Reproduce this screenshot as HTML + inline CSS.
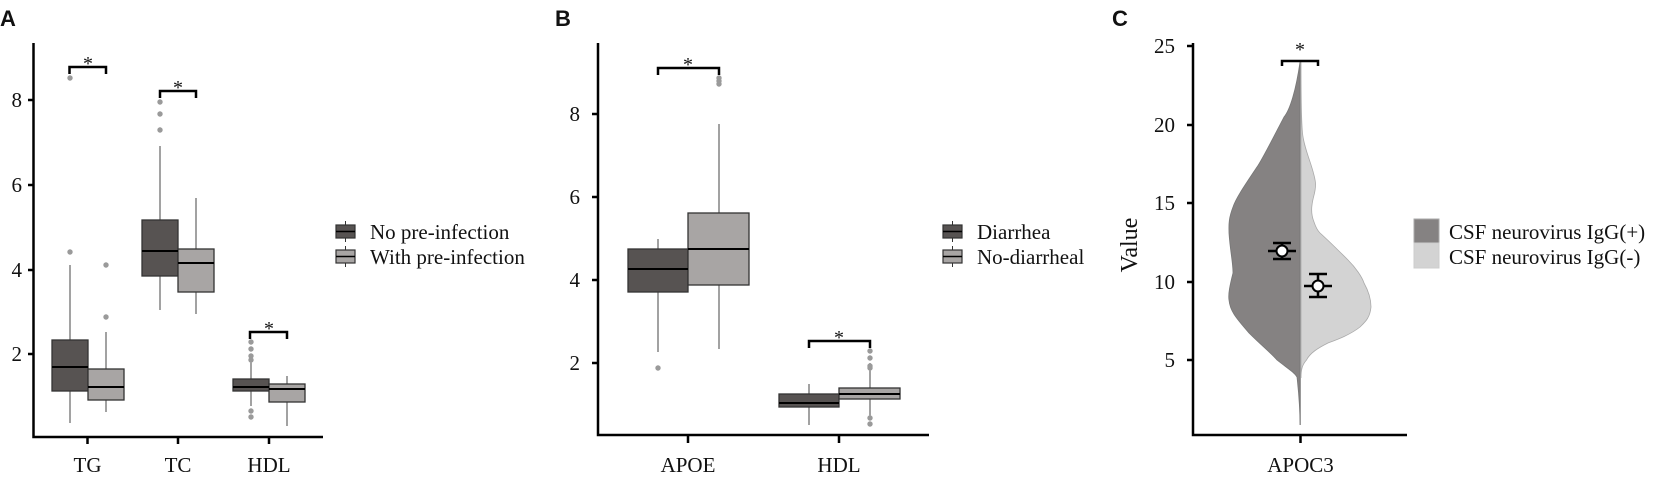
<!DOCTYPE html>
<html><head><meta charset="utf-8"><style>
html,body{margin:0;padding:0;background:#fff;}
svg{display:block;}
text{font-family:"Liberation Serif",serif;fill:#111;}
.lbl{font-family:"Liberation Sans",sans-serif;font-weight:bold;font-size:22px;}
</style></head><body>
<svg width="1654" height="477" viewBox="0 0 1654 477" xmlns="http://www.w3.org/2000/svg">
<!-- Panel A -->
<text class="lbl" x="0" y="26">A</text>
<g stroke="#000" stroke-width="2.5" fill="none">
<path d="M33.5,43 V437 H323"/>
<path d="M28,100H33.5M28,185H33.5M28,270H33.5M28,354H33.5"/>
<path d="M87.5,437V444M178,437V444M269,437V444"/>
</g>
<g font-size="21" text-anchor="end"><text x="22" y="107">8</text><text x="22" y="192">6</text><text x="22" y="277">4</text><text x="22" y="361">2</text></g>
<g font-size="21" text-anchor="middle"><text x="87.5" y="472">TG</text><text x="178" y="472">TC</text><text x="269" y="472">HDL</text></g>
<g stroke="#444" stroke-width="1">
<path d="M70,265V340M70,391V423M106,332V369M106,400V412M160,146V220M160,276V310M196,198V249M196,292V314M251,361V379M251,391V406M287,376V384M287,402V426"/>
</g>
<g stroke="#333" stroke-width="1.3">
<rect x="52" y="340" width="36" height="51" fill="#575352"/>
<rect x="88" y="369" width="36" height="31" fill="#a8a5a4"/>
<rect x="142" y="220" width="36" height="56" fill="#575352"/>
<rect x="178" y="249" width="36" height="43" fill="#a8a5a4"/>
<rect x="233" y="379" width="36" height="12" fill="#575352"/>
<rect x="269" y="384" width="36" height="18" fill="#a8a5a4"/>
</g>
<g stroke="#000" stroke-width="2"><path d="M52,367H88M88,387H124M142,251H178M178,263H214M233,387H269M269,389H305"/></g>
<g fill="#9a9a9a"><circle cx="70" cy="252" r="2.7"/><circle cx="70" cy="78" r="2.7"/><circle cx="106" cy="317" r="2.7"/><circle cx="106" cy="265" r="2.7"/><circle cx="160" cy="130" r="2.7"/><circle cx="160" cy="114" r="2.7"/><circle cx="160" cy="102" r="2.7"/><circle cx="251" cy="342" r="2.7"/><circle cx="251" cy="349" r="2.7"/><circle cx="251" cy="356" r="2.7"/><circle cx="251" cy="360" r="2.7"/><circle cx="251" cy="411" r="2.7"/><circle cx="251" cy="417" r="2.7"/></g>
<g stroke="#000" stroke-width="2.5" fill="none"><path d="M69.5,74V67H106V74M160,98V91H196V98M250,339V332H287V339"/></g>
<g font-size="20" text-anchor="middle"><text x="88" y="70">*</text><text x="178" y="94">*</text><text x="269" y="335">*</text></g>
<g>
<path d="M345.5,221V242M345.5,246V267" stroke="#333" stroke-width="1"/>
<rect x="336" y="225" width="19" height="13" fill="#575352" stroke="#333" stroke-width="1.2"/>
<path d="M336,231.5H355" stroke="#000" stroke-width="1.5"/>
<rect x="336" y="250" width="19" height="13" fill="#a8a5a4" stroke="#333" stroke-width="1.2"/>
<path d="M336,256.5H355" stroke="#000" stroke-width="1.5"/>
</g>
<g font-size="21"><text x="370" y="239">No pre-infection</text><text x="370" y="264">With pre-infection</text></g>

<!-- Panel B -->
<text class="lbl" x="555" y="26">B</text>
<g stroke="#000" stroke-width="2.5" fill="none">
<path d="M598,43V435H929"/>
<path d="M592,114H598M592,197H598M592,280H598M592,363H598"/>
<path d="M688,435V443M839,435V443"/>
</g>
<g font-size="21" text-anchor="end"><text x="580" y="121">8</text><text x="580" y="204">6</text><text x="580" y="287">4</text><text x="580" y="370">2</text></g>
<g font-size="21" text-anchor="middle"><text x="688" y="472">APOE</text><text x="839" y="472">HDL</text></g>
<g stroke="#444" stroke-width="1"><path d="M658,239V249M658,292V352M719,124V213M719,285V349M809,384V394M809,407V425M870,363V388M870,399V417"/></g>
<g stroke="#333" stroke-width="1.3">
<rect x="628" y="249" width="60" height="43" fill="#575352"/>
<rect x="688" y="213" width="61" height="72" fill="#a8a5a4"/>
<rect x="779" y="394" width="60" height="13" fill="#575352"/>
<rect x="839" y="388" width="61" height="11" fill="#a8a5a4"/>
</g>
<g stroke="#000" stroke-width="2"><path d="M628,269H688M688,249H749M779,403H839M839,394H900"/></g>
<g fill="#9a9a9a"><circle cx="658" cy="368" r="2.7"/><circle cx="719" cy="78" r="2.7"/><circle cx="719" cy="81" r="2.7"/><circle cx="719" cy="84" r="2.7"/><circle cx="870" cy="351" r="2.7"/><circle cx="870" cy="358" r="2.7"/><circle cx="870" cy="366" r="2.7"/><circle cx="870" cy="368" r="2.7"/><circle cx="870" cy="418" r="2.7"/><circle cx="870" cy="424" r="2.7"/></g>
<g stroke="#000" stroke-width="2.5" fill="none"><path d="M658,75V68H719V75M809,348V341H870V348"/></g>
<g font-size="20" text-anchor="middle"><text x="688" y="71">*</text><text x="839" y="344">*</text></g>
<g>
<path d="M952.5,221V242M952.5,246V267" stroke="#333" stroke-width="1"/>
<rect x="943" y="225" width="19" height="13" fill="#575352" stroke="#333" stroke-width="1.2"/>
<path d="M943,231.5H962" stroke="#000" stroke-width="1.5"/>
<rect x="943" y="250" width="19" height="13" fill="#a8a5a4" stroke="#333" stroke-width="1.2"/>
<path d="M943,256.5H962" stroke="#000" stroke-width="1.5"/>
</g>
<g font-size="21"><text x="977" y="239">Diarrhea</text><text x="977" y="264">No-diarrheal</text></g>

<!-- Panel C -->
<text class="lbl" x="1112" y="26">C</text>
<path d="M1300,62 C1296,90 1290,110 1284,117 C1272,140 1262,160 1257,167 C1245,185 1236,198 1233,207 C1228,220 1229,226 1229,233 C1230,250 1233,262 1233,273 C1230,285 1228,294 1229,300 C1230,312 1238,320 1249,333 C1262,346 1270,352 1277,360 C1287,368 1294,372 1297,377 C1299,395 1300,410 1300,425 Z" fill="#858282" stroke="#777" stroke-width="0.8"/>
<path d="M1301,62 C1301,90 1301,118 1302.5,133 C1304,150 1314,168 1315.5,183 C1316,192 1313,196 1312,205 C1311,212 1312,217 1314,222 C1316,228 1318,231 1320,233 C1330,242 1340,252 1348,260 C1356,268 1362,277 1364,283 C1369,292 1371,300 1371,307 C1370,318 1365,322 1360,327 C1350,335 1336,340 1328,343 C1318,348 1310,353 1306.5,360 C1302,365 1301,370 1301,378 Z" fill="#d3d3d3" stroke="#aaa" stroke-width="0.8"/>
<path d="M1300.5,62V425" stroke="#999" stroke-width="1"/>
<g stroke="#000" stroke-width="2.5" fill="none">
<path d="M1193,43V435H1407"/>
<path d="M1187,46H1193M1187,125H1193M1187,203H1193M1187,282H1193M1187,360H1193"/>
<path d="M1300.5,435V443"/>
<path d="M1282,66V61H1318V66"/>
<path d="M1282,243V259M1273,243H1291M1273,259H1291M1268,251H1296"/>
<path d="M1318,274V297M1309,274H1327M1309,297H1327M1304,286H1332"/>
</g>
<circle cx="1282" cy="251" r="5.5" fill="#fff" stroke="#000" stroke-width="2"/>
<circle cx="1318" cy="286" r="5.5" fill="#fff" stroke="#000" stroke-width="2"/>
<g font-size="21" text-anchor="end"><text x="1175" y="53">25</text><text x="1175" y="132">20</text><text x="1175" y="210">15</text><text x="1175" y="289">10</text><text x="1175" y="367">5</text></g>
<text font-size="21" text-anchor="middle" x="1300.5" y="472">APOC3</text>
<text font-size="20" text-anchor="middle" x="1300" y="56">*</text>
<text font-size="24" text-anchor="middle" transform="translate(1137,245) rotate(-90)">Value</text>
<rect x="1414" y="219" width="25" height="24" fill="#858282" stroke="#aaa" stroke-width="1"/>
<rect x="1414" y="243" width="25" height="25" fill="#d3d3d3" stroke="#ccc" stroke-width="1"/>
<g font-size="21"><text x="1449" y="239">CSF neurovirus IgG(+)</text><text x="1449" y="264">CSF neurovirus IgG(-)</text></g>
</svg>
</body></html>
